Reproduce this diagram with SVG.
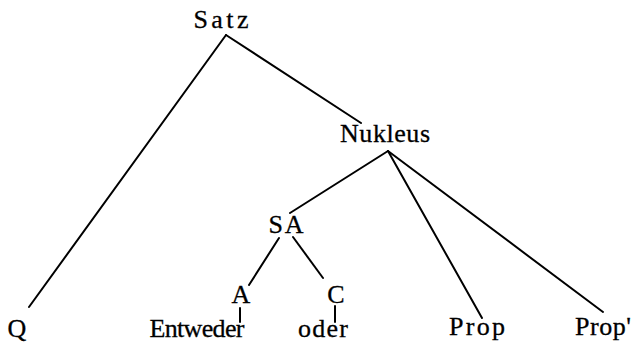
<svg xmlns="http://www.w3.org/2000/svg" width="635" height="344" viewBox="0 0 635 344">
<style>
.e line{stroke:#000;stroke-width:2;stroke-linecap:round}
</style>
<rect width="635" height="344" fill="#fff"/>
<g class="e" id="connectors">
<line x1="226" y1="35" x2="29" y2="307"/>
<line x1="226" y1="35" x2="361" y2="123"/>
<line x1="388" y1="151" x2="290" y2="213"/>
<line x1="388" y1="151" x2="482" y2="318"/>
<line x1="388" y1="151" x2="603" y2="312"/>
<line x1="279" y1="238" x2="249" y2="285"/>
<line x1="293" y1="237" x2="323" y2="278"/>
<line x1="240" y1="308" x2="240" y2="322"/>
<line x1="335" y1="306" x2="335" y2="322"/>
</g>
<g font-family="'Liberation Serif', 'Times New Roman', serif" font-size="26" text-anchor="middle" fill="#000" stroke="#000" stroke-width="0.3">
<g id="satz"><text x="221" y="28" textLength="55" lengthAdjust="spacing">Satz</text></g>
<g id="nukleus"><text x="385" y="142" textLength="90" lengthAdjust="spacing">Nukleus</text></g>
<g id="sa"><text x="286" y="233" textLength="35" lengthAdjust="spacing">SA</text></g>
<g id="a"><text x="241" y="303">A</text></g>
<g id="c"><text x="336" y="303">C</text></g>
<g id="q"><text x="17" y="337">Q</text></g>
<g id="entweder"><text x="197" y="337" textLength="95" lengthAdjust="spacing">Entweder</text></g>
<g id="oder"><text x="323" y="337" textLength="50" lengthAdjust="spacing">oder</text></g>
<g id="prop1"><text x="477" y="335" textLength="56" lengthAdjust="spacing">Prop</text></g>
<g id="prop2"><text x="603" y="335" textLength="56" lengthAdjust="spacing">Prop'</text></g>
</g>
</svg>
